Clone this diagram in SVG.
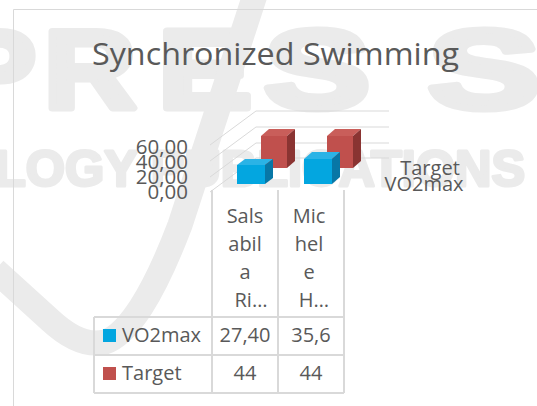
<svg xmlns="http://www.w3.org/2000/svg" width="537" height="406" viewBox="0 0 537 406">
  <style>
    .wm { fill: #ebebeb; stroke: #ebebeb; stroke-linejoin: round; font-family: "Liberation Sans", Arial, sans-serif; font-weight: bold; }
    .txt { fill: #595959; font-family: "Open Sans", "Liberation Sans", sans-serif; }
    .grid { stroke: #d9d9d9; stroke-width: 1; fill: none; }
    .tbl { stroke: #d9d9d9; stroke-width: 2; fill: none; }
    .redF { fill: #c0504d; } .redT { fill: #c95e5a; } .redS { fill: #8a3432; }
    .bluF { fill: #03a6e0; } .bluT { fill: #2bb3e6; } .bluS { fill: #0877a6; }
  </style>

  <rect width="537" height="406" fill="#ffffff"/>

  <!-- background watermark -->
  <g id="watermark">
    <g stroke-width="7">
      <text class="wm" x="-48" y="108" font-size="112" textLength="84" lengthAdjust="spacingAndGlyphs">P</text>
      <text class="wm" x="44" y="108" font-size="112" textLength="92" lengthAdjust="spacingAndGlyphs">R</text>
      <text class="wm" x="158" y="108" font-size="112" textLength="94" lengthAdjust="spacingAndGlyphs">E</text>
      <text class="wm" x="264" y="108" font-size="112" textLength="106" lengthAdjust="spacingAndGlyphs">S</text>
      <text class="wm" x="428" y="108" font-size="112" textLength="112" lengthAdjust="spacingAndGlyphs">S</text>
    </g>
    <text class="wm" x="-5" y="186" font-size="50" stroke-width="3" textLength="530" lengthAdjust="spacingAndGlyphs">LOGY PUBLICATIONS</text>
    <path d="M 255,-5 L 180,225 Q 140,330 105,342 Q 80,348 50,320 L -5,270" fill="none" stroke="#ebebeb" stroke-width="25" stroke-linejoin="round"/>
  </g>

  <!-- chart frame -->
  <path d="M 13.5,406 L 13.5,9.5 L 537,9.5" fill="none" stroke="#d9d9d9" stroke-width="1"/>

  <g id="title">
    <text class="txt" x="92" y="65" font-size="31" textLength="367" lengthAdjust="spacingAndGlyphs">Synchronized Swimming</text>
  </g>

  <!-- 3D gridlines: front-left diagonal then back wall -->
  <g id="gridlines">
    <path class="grid" d="M 210,145 L 256,111 L 389,111"/>
    <path class="grid" d="M 210,161 L 256,127 L 389,127"/>
    <path class="grid" d="M 210,177 L 256,143 L 389,143"/>
    <path class="grid" d="M 210,192 L 256,158 L 389,158"/>
  </g>

  <g id="axis-labels" class="txt" font-size="20.5" text-anchor="end">
    <text x="188" y="154">60,00</text>
    <text x="188" y="169">40,00</text>
    <text x="188" y="184">20,00</text>
    <text x="188" y="199">0,00</text>
  </g>

  <!-- Target series (back row) -->
  <g id="target-bars">
    <g id="bar-target-1">
      <rect class="redF" x="261" y="136" width="26" height="32"/>
      <polygon class="redT" points="261,136 287,136 295,129 269,129"/>
      <polygon class="redS" points="287,136 295,129 295,161 287,168"/>
    </g>
    <g id="bar-target-2">
      <rect class="redF" x="327" y="136" width="26" height="32"/>
      <polygon class="redT" points="327,136 353,136 361,129 335,129"/>
      <polygon class="redS" points="353,136 361,129 361,161 353,168"/>
    </g>
  </g>

  <!-- VO2max series (front row) -->
  <g id="vo2max-bars">
    <g id="bar-vo2-1">
      <rect class="bluF" x="237" y="165" width="28" height="19"/>
      <polygon class="bluT" points="237,165 265,165 273,159 245,159"/>
      <polygon class="bluS" points="265,165 273,159 273,178 265,184"/>
    </g>
    <g id="bar-vo2-2">
      <rect class="bluF" x="304" y="159" width="28" height="25"/>
      <polygon class="bluT" points="304,159 332,159 340,152 312,152"/>
      <polygon class="bluS" points="332,159 340,152 340,177 332,184"/>
    </g>
  </g>

  <g id="legend" class="txt" font-size="20">
    <text x="430" y="175" text-anchor="middle">Target</text>
    <text x="424" y="191" text-anchor="middle">VO2max</text>
  </g>

  <!-- data table -->
  <g id="data-table">
    <path class="tbl" d="M 212,190 L 212,393 M 278,190 L 278,393 M 344,190 L 344,393 M 94,317 L 344,317 M 94,355 L 344,355 M 94,393 L 344,393 M 94,317 L 94,393"/>
    <g class="txt" font-size="20" text-anchor="middle">
      <text x="245" y="223">Sals</text>
      <text x="245" y="251">abil</text>
      <text x="245" y="279">a</text>
      <text x="251" y="307">Ri…</text>
      <text x="309" y="223">Mic</text>
      <text x="309" y="251">hel</text>
      <text x="309" y="279">e</text>
      <text x="314" y="307">H…</text>
      <text x="245" y="342">27,40</text>
      <text x="311" y="342">35,6</text>
      <text x="245" y="380">44</text>
      <text x="311" y="380">44</text>
    </g>
    <rect class="bluF" x="103" y="329" width="13" height="13"/>
    <rect class="redF" x="103" y="367" width="13" height="13"/>
    <g class="txt" font-size="20">
      <text x="122" y="342">VO2max</text>
      <text x="122" y="380">Target</text>
    </g>
  </g>
</svg>
